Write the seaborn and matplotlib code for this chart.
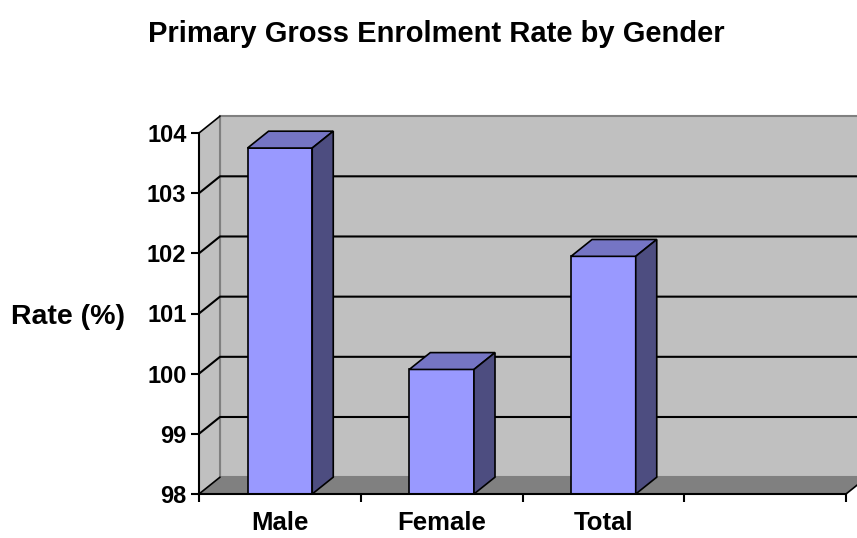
# package imports
import matplotlib.pyplot as plt
from matplotlib.patches import Polygon
import pandas as pd
import seaborn as sns

# chart data
categories = ["Male", "Female", "Total"]
rates = [103.75, 100.07, 101.95]
slots = categories + [" "]
y_ticks = [98, 99, 100, 101, 102, 103, 104]

# colours (excel 97 style)
front_color = "#9999ff"
top_color = "#7575c4"
side_color = "#4d4d80"
wall_color = "#c0c0c0"
floor_color = "#808080"

sns.set_theme(style="white")
plt.rcParams["font.family"] = ["Liberation Sans", "DejaVu Sans"]
plt.rcParams["font.weight"] = "bold"
plt.rcParams["text.color"] = "black"
plt.rcParams["xtick.color"] = "black"
plt.rcParams["ytick.color"] = "black"

df = pd.DataFrame({"group": categories, "rate": rates})

fig = plt.figure(figsize=(8.57, 5.38), dpi=100)
ax = fig.add_axes([199 / 857, 1 - 494 / 538, (846 - 199) / 857, 361 / 538])

sns.barplot(data=df, x="group", y="rate", order=slots, color=front_color,
            saturation=1, width=0.4, edgecolor="black", linewidth=1.2, ax=ax, zorder=2)
bars = [p for p in ax.patches if p.get_height() > 0]

x0, x1 = -0.5, len(slots) - 0.5
y0, y1 = y_ticks[0], y_ticks[-1]
ax.set_xlim(x0, x1)
ax.set_ylim(y0, y1)

# depth offset of the fake 3d
dx, dy = 0.13, 0.28

# walls and floor
ax.add_patch(Polygon([(x0 + dx, y0 + dy), (x1 + dx, y0 + dy), (x1 + dx, y1 + dy), (x0 + dx, y1 + dy)],
                     closed=True, fc=wall_color, ec="#808080", lw=1.5, zorder=0, clip_on=False))
ax.add_patch(Polygon([(x0, y0), (x0 + dx, y0 + dy), (x0 + dx, y1 + dy), (x0, y1)],
                     closed=True, fc=wall_color, ec="none", zorder=0, clip_on=False))
ax.add_patch(Polygon([(x0, y0), (x1, y0), (x1 + dx, y0 + dy), (x0 + dx, y0 + dy)],
                     closed=True, fc=floor_color, ec="none", zorder=0.2, clip_on=False))
ax.plot([x0 + dx, x0 + dx], [y0 + dy, y1 + dy], color="#808080", lw=1.5, zorder=0.3, clip_on=False)

# gridlines on the back wall and side wall
for v in y_ticks:
    if y0 < v < y1:
        ax.plot([x0, x0 + dx, x1 + dx], [v, v + dy, v + dy], color="black", lw=1.5,
                zorder=0.5, clip_on=False)
    else:
        ax.plot([x0, x0 + dx], [v, v + dy], color="black", lw=1.2, zorder=0.5, clip_on=False)
ax.plot([x1, x1 + dx], [y0, y0 + dy], color="black", lw=1.2, zorder=0.5, clip_on=False)

# top and side faces of the bars
for p in bars:
    xl, w, h = p.get_x(), p.get_width(), p.get_height()
    ax.add_patch(Polygon([(xl, h), (xl + dx, h + dy), (xl + w + dx, h + dy), (xl + w, h)],
                         closed=True, fc=top_color, ec="black", lw=1.2, zorder=2, clip_on=False))
    ax.add_patch(Polygon([(xl + w, y0), (xl + w + dx, y0 + dy), (xl + w + dx, h + dy), (xl + w, h)],
                         closed=True, fc=side_color, ec="black", lw=1.2, zorder=2, clip_on=False))

# axes styling
ax.set_facecolor("none")
for s in ["top", "right"]:
    ax.spines[s].set_visible(False)
for s in ["left", "bottom"]:
    ax.spines[s].set_color("black")
    ax.spines[s].set_linewidth(1.5)
    ax.spines[s].set_zorder(3)

ax.set_yticks(y_ticks)
ax.set_yticklabels([str(v) for v in y_ticks], fontsize=17, fontweight="bold")
ax.set_xticks([i - 0.5 for i in range(len(slots) + 1)])
ax.set_xticklabels([])
ax.set_xticks(range(len(slots)), minor=True)
ax.set_xticklabels(slots, minor=True, fontsize=18.5, fontweight="bold")
ax.tick_params(axis="both", which="major", direction="out", length=6, width=1.5, color="black",
               left=True, bottom=True, pad=3)
ax.tick_params(axis="x", which="minor", length=0, pad=12)
ax.set_xlabel("")
ax.set_ylabel("")

# titles
fig.text(436 / 857, 1 - 34 / 538, "Primary Gross Enrolment Rate by Gender", ha="center", va="center",
         fontsize=21, fontweight="bold")
fig.text(68 / 857, 1 - 317 / 538, "Rate (%)", ha="center", va="center", fontsize=20.5, fontweight="bold")

fig.savefig("out.png", dpi=100)
